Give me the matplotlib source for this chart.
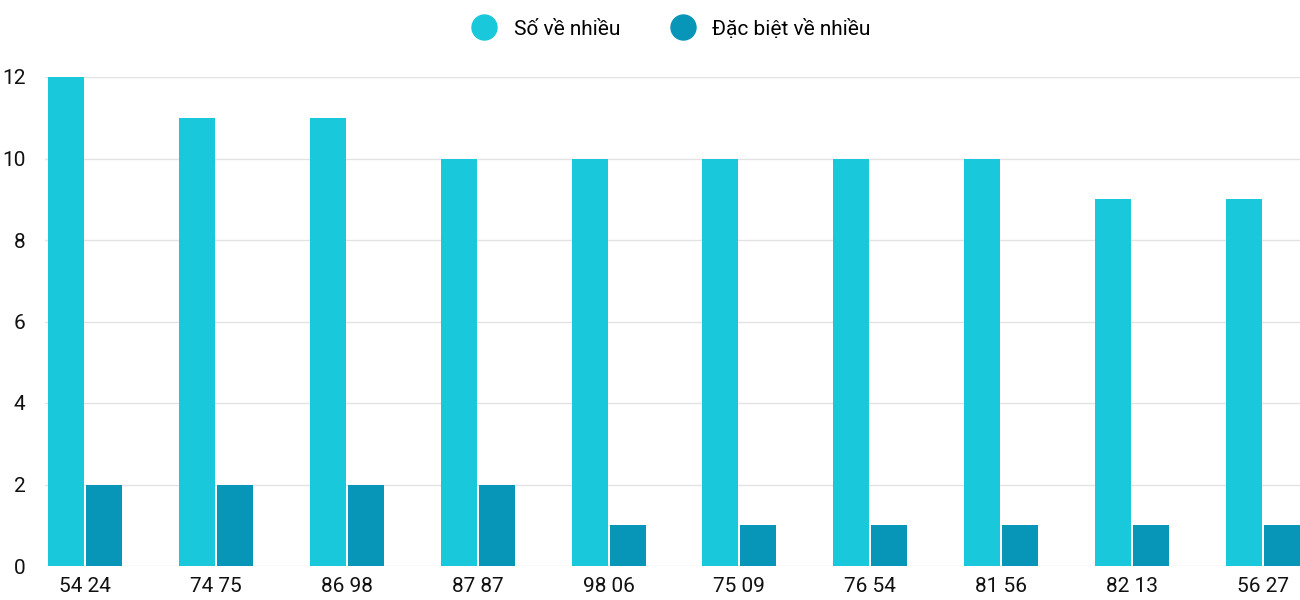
import numpy as np
import matplotlib.pyplot as plt
from matplotlib.lines import Line2D

plt.rcParams['font.family'] = ['Roboto', 'DejaVu Sans']

pairs = ["54 24", "74 75", "86 98", "87 87", "98 06", "75 09", "76 54", "81 56", "82 13", "56 27"]
so_ve_nhieu = [12, 11, 11, 10, 10, 10, 10, 10, 9, 9]
dac_biet = [2, 2, 2, 2, 1, 1, 1, 1, 1, 1]

C1 = "#1ac8db"
C2 = "#0795b8"

fig = plt.figure(figsize=(13, 6), dpi=100)
ax = fig.add_axes([45 / 1300, 34 / 600, 1255 / 1300, 489 / 600])

x = np.arange(len(pairs))
w = 0.275
ax.bar(x - 0.145, so_ve_nhieu, width=w, color=C1, zorder=3)
ax.bar(x + 0.145, dac_biet, width=w, color=C2, zorder=3)

ax.set_xlim(-0.305, 9.2825)
ax.set_ylim(0, 12)
ax.set_yticks(range(0, 13, 2))
ax.set_xticks(x)
ax.set_xticklabels(pairs)
ax.grid(axis='y', color="#e3e3e3", lw=1, zorder=0)
for s in ax.spines.values():
    s.set_visible(False)
ax.tick_params(axis='both', length=0, labelsize=15, colors="#111111")
ax.tick_params(axis='x', pad=8)
ax.tick_params(axis='y', pad=14)

handles = [Line2D([], [], marker='o', ls='', ms=18, color=C1),
           Line2D([], [], marker='o', ls='', ms=18, color=C2)]
fig.legend(handles, ["Số về nhiều", "Đặc biệt về nhiều"], loc='upper center',
           bbox_to_anchor=(0.513, 1.0), ncol=2, frameon=False, fontsize=15,
           handletextpad=0.4, columnspacing=2.0)

fig.savefig("out.png")
